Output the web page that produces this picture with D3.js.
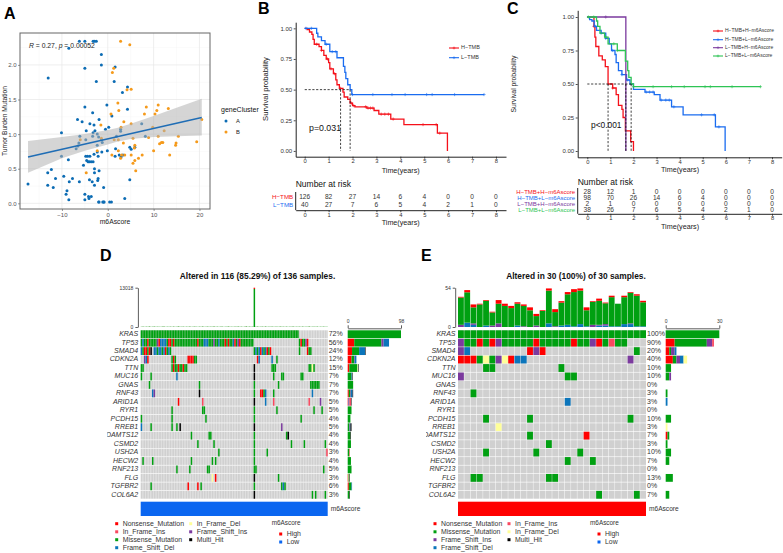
<!DOCTYPE html>
<html>
<head>
<meta charset="utf-8">
<script src="https://cdn.jsdelivr.net/npm/d3@7"></script>
<style>
body { margin: 0; background: #fff; }
svg { display: block; font-family: "Liberation Sans", Arial, sans-serif; }
</style>
</head>
<body>
<svg id="fig" width="783" height="553"></svg>
<script>
// --- panel A: scatter, [m6Ascore, TMB]
const scatterA = [[-17.4,.28],[-13,1.81],[-13.1,.44],[-13.1,.26],[-12.3,.49],[-11.9,.23],[-11.4,.36],[-10.1,1.02],[-10.1,.68],[-9.6,.39],[-9.1,.13],[-8.9,.18],[-8.6,.63],[-8.5,.05],[-8.4,.31],[-7.7,.36],[-8.5,2.24],[-6.6,1.21],[-6.2,.31],[-6.1,.97],[-5,2.34],[-3.2,2.34],[-2.9,2.34],[-2.5,2.34],[-6.2,2.34],[-1.4,2.15],[-1.4,2.0],[-5,1.95],[1.6,1.97],[-2.5,1.76],[1.4,1.76],[4.3,1.68],[3.2,1.6],[-5,1.39],[-3.3,1.31],[-.2,1.42],[4.3,1.36],[.9,1.26],[-1.9,1.21],[-5.6,1.18],[-3.9,1.15],[-3,1.13],[7.4,1.15],[-4.7,1.05],[-2.8,1.05],[-3.2,1.02],[-2.3,1.0],[-.5,1.07],[.2,1.1],[2.8,1.04],[2.8,1.07],[-3.3,.97],[-2,.96],[-1.4,.92],[-1.2,.88],[-2.3,.84],[-4.8,.92],[-6.3,.87],[-6.5,.83],[-6.9,.79],[8.2,.97],[1.9,.97],[1.7,.79],[-.1,.76],[-1.3,.74],[-2.3,.74],[-3,.71],[-2.1,.68],[-3.9,.68],[-4.4,.68],[-4.8,.68],[-4.6,.62],[-4.3,.6],[-4,.6],[-3.6,.6],[-3.2,.6],[-5.3,.55],[1.6,.68],[2.5,.7],[2.9,.67],[3.3,.7],[4.8,.81],[5.1,.78],[5.9,.81],[4.8,.34],[-2.9,.5],[-2.9,.44],[-1.9,.47],[-2.1,.36],[-2.2,.33],[-4,.34],[-3.4,.31],[-2.9,.26],[-.9,.23],[-5,.13],[-4.2,.1],[-4.1,.07],[-3.6,.1],[-5,.05],[3.7,.07],[-2,.02],[-1.9,.02],[-1.1,.02],[-.9,.02],[-.8,.02],[.4,.02],[.8,.02]];
const scatterB = [[2.8,2.34],[4.8,2.29],[1,1.89],[1.3,1.95],[4.2,1.64],[5.1,1.65],[2.2,1.45],[2.4,1.34],[8.4,1.39],[11,1.42],[10.7,1.34],[10.3,1.29],[8,1.29],[13.2,1.37],[.7,1.29],[3.5,1.18],[5.1,1.15],[2.9,1.1],[-1.5,1.13],[9.8,1.1],[20.5,1.21],[12.3,1.05],[15.4,.97],[11,.97],[8.9,.95],[5.5,.94],[-1.4,.94],[-6,.92],[1.4,.92],[2.3,.92],[3.4,.87],[12,.88],[11.7,.88],[11.3,.86],[14.9,.87],[14.8,.84],[19.4,.89],[5.9,.84],[5.8,.8],[10,.76],[2.3,.76],[-2.3,.76],[.9,.7],[3,.7],[3.7,.7],[5.1,.7],[7.5,.7],[13.5,.7],[2.8,.65],[6.7,.65],[5.9,.62],[5.5,.58],[6.1,.47],[-4.7,.44]];
const fitX = [-17.4, 20.5];
const fitY = [.67, 1.24];
const ciX = [-17.4,-10,-5,0,2,5,10,15,20.5];
const ciHi = [.90,.96,1.0,1.06,1.09,1.15,1.26,1.38,1.51];
const ciLo = [.44,.65,.76,.85,.89,.93,.96,.97,.98];

// --- panel B: survival steps
const bRedT = [0,.1,.2,.3,.35,.4,.6,.7,.8,.9,1,1.05,1.2,1.3,1.35,1.45,1.6,1.65,1.8,1.9,2,2.1,2.6,2.9,3.1,3.6,4.15,5.55,5.97];
const bRedS = [1,.99,.97,.95,.91,.87,.85,.82,.78,.75,.72,.67,.63,.58,.54,.51,.48,.44,.42,.39,.37,.36,.35,.33,.3,.26,.215,.145,0];
const bRedCens = [.5,.7,.95,1.1,1.25,1.5,1.95,2.05,2.55,2.65,2.75,2.85,3.2,3.35,3.5,3.7,4.95,5.5,5.65];
const bBlueT = [0,.5,.55,.7,.85,1.05,1.35,1.62,1.68,1.72,1.8,1.9,1.97,7.5];
const bBlueS = [1,.96,.93,.9,.87,.81,.76,.69,.64,.59,.54,.5,.46,.46];
const bBlueCens = [.05,.28,.9,1.15,1.3,2,2.85,3.65,4.2,5.1,5.33,6.27,7.5];
const bRiskRed = [126,82,27,14,6,4,0,0,0];
const bRiskBlue = [40,27,7,6,5,4,2,1,0];

// --- panel C: survival steps
const cRedT = [0,.29,.33,.37,.5,.65,.78,.9,1.1,1.25,1.35,1.5,1.55,1.65,1.88,2];
const cRedS = [1,.93,.85,.78,.71,.68,.63,.5,.47,.42,.34,.31,.25,.15,.07,0];
const cRedCens = [.29,1.1];
const cBlueT = [0,.1,.2,.3,.4,.6,.8,.95,1.05,1.2,1.25,1.35,1.5,1.7,1.85,2,2.5,2.9,3.15,3.65,4.15,5.55,5.97];
const cBlueS = [1,.98,.97,.93,.9,.88,.84,.8,.75,.72,.66,.6,.57,.53,.5,.46,.44,.42,.38,.33,.27,.18,0];
const cBlueCens = [.35,.6,.8,1.1,1.5,1.75,2.55,2.7,2.85,3.2,3.4,3.55,3.75,4.95,5.5,5.7];
const cPurpleT = [0,1.67];
const cPurpleS = [1,0];
const cPurpleCens = [.8];
const cGreenT = [0,.4,.45,.55,.75,.9,1.3,1.65,1.75,1.8,1.9,2,7.5];
const cGreenS = [1,.97,.93,.88,.85,.8,.75,.67,.6,.55,.5,.48,.48];
const cGreenCens = [.05,.28,.8,1.15,1.3,2,2.85,3.65,4.2,5.1,5.33,6.27,7.5];
const cRiskRows = [[28,12,1,0,0,0,0,0,0],[98,70,26,14,6,4,0,0,0],[2,1,0,0,0,0,0,0,0],[38,26,7,6,5,4,2,1,0]];
const cNames = ["H\u2212TMB+H\u2212m6Ascore","H\u2212TMB+L\u2212m6Ascore","L\u2212TMB+H\u2212m6Ascore","L\u2212TMB+L\u2212m6Ascore"];
const kmTicks = [0,1,2,3,4,5,6,7,8];
const survTicks = [0,.25,.5,.75,1];

// --- oncoplots. codes: m missense, n nonsense, f frame shift del, p frame shift ins,
// i in frame ins, d in frame del, h multi hit
const genes = ["KRAS","TP53","SMAD4","CDKN2A","TTN","MUC16","GNAS","RNF43","ARID1A","RYR1","PCDH15","RREB1","ADAMTS12","CSMD2","USH2A","HECW2","RNF213","FLG","TGFBR2","COL6A2"];
const dPct = [72,56,24,12,15,7,7,7,5,5,4,5,4,4,3,4,5,3,6,3];
const ePct = [100,90,20,40,10,10,0,3,3,0,10,3,7,3,10,7,0,13,0,7];
const dCells = [
  "0-97m",
  "0m 1f 2-3m 4n 5-9m 10p 11n 12-15f 16m 17-18n 19m 20n 21-34m 35n 36-38m 39-41f 42-44m 45p 46-47m 48f 49-51m 52n 53m 54n 55-56m 57f 58n 59m 60p 61n 62-69m 98m 99n 100-101m 102p 103n",
  "0f 1m 2-3n 4m 5n 6h 8-9f 10m 11-12f 13m 14f 15n 16m 17f 18m 70m 71f 72m 73f 74n 75f 76m 77f 78n 79m 80n 98m 103n 104-105m",
  "2p 3f 4n 19m 20n 21m 29-32n 33-34m 72n 73f 81f 84m",
  "0-1m 19m 20n 21-22m 23n 24-25m 26n 27-28m 70h 81-83m 104-105m 106d 107m",
  "0m 6m 22f 70h 82m 87-88m 99-100m",
  "5m 36m 70m 85m 105-110m",
  "7f 8p 36h 70m 74-75n 76m 77f 82m 106f",
  "23n 38i 70h 77f 82i 104i 111p",
  "19m 38-39m 70m 84m 107m 112m",
  "0m 19m 40m 70m 99m",
  "0f 6m 19m 22m 24h 70h 87p",
  "31m 42-43m 70m 90m 91h",
  "35m 45m 70m 93m 101m 114m",
  "48m 70m 78m 115i",
  "1m 7m 31m 44m 46m 70m",
  "22m 30m 41-42m 70-71m 113m",
  "44d 46n 70h 85m",
  "6m 29n 35n 37m 70m 87m 88f 89m",
  "70h 106m 108m 114m"
];
const eCells = [
  "0-29m",
  "0p 1-2m 3n 4m 5n 6p 7-11m 12n 13-17m 18n 19-20m 21p 22n 23m 24i 25-26m",
  "0p 1f 11n 12p 13n 28m",
  "0-2n 3m 4d 5m 6p 7d 8n 9-10f 27p",
  "4-5m 16m",
  "0p 17-18m",
  "",
  "2m",
  "17f",
  "",
  "4m 11m 27m",
  "6d",
  "11m 20n",
  "14m",
  "4m 12m 19m",
  "17m 21m",
  "",
  "2-3m 14-15m",
  "",
  "22m 28m"
];
const dTmbMis = [62,110,48,95,70,140,54,82,120,66,90,74,58,105,130,44,88,72,96,60,116,52,84,150,68,78,100,56,92,64,124,46,86,108,76,58,98,70,134,50,80,112,66,94,72,146,54,102,60,88,118,48,76,90,136,62,84,56,106,74,128,68,96,52,82,158,64,110,70,92,12600,78,122,58,86,104,66,140,50,94,72,114,60,82,98,54,126,76,88,64,108,48,92,70,132,56,84,74,100,62,118,52,90,68,144,58,80,96,66,112,50,86,72,104,60,78];
const dTmbNon = [8,14,4,10,6,22,5,9,16,7,12,8,4,11,20,3,10,6,13,5,18,4,9,24,6,8,12,5,10,6,19,3,9,14,7,5,12,6,21,4,8,15,6,11,7,23,4,13,5,10,17,3,7,10,20,6,9,4,14,7,19,6,11,4,9,26,5,15,6,10,418,7,18,5,9,13,6,21,4,11,7,16,5,9,12,4,19,7,10,6,14,3,11,6,20,4,9,7,12,5,17,4,10,6,22,5,8,11,6,15,4,9,7,13,5,8];
const eTmbDel = [0,6,3,0,2,0,0,0,0,2,0,0,0,0,5,0,2,3,1,4,1,0,2,2,1,1,4,4,1,1];
const eTmbIns = [3,0,2,0,0,2,5,0,0,0,1,0,2,0,0,1,0,0,0,0,0,3,1,2,0,0,0,1,0,0];
const eTmbMis = [37.5,41.7,22,31,34,18,27,29,26,30,28,23,13,22,45,19.5,31.5,42,47,46,22,31.5,33,28.6,40,31,37,42,42,33];
const eTmbNon = [1,3,4,1,1,1,5,3,3,2,2,4,3,1,3,4,2,3,4,3,4,1,3,1,2,0,2,1,2,2];

const mutColors = {n:"#ff0000", m:"#00a011", f:"#0b75bb", p:"#7b3a9e", i:"#f9485f", d:"#ffff99", h:"#000000"};
const mutNames = {n:"Nonsense_Mutation", m:"Missense_Mutation", f:"Frame_Shift_Del", p:"Frame_Shift_Ins", i:"In_Frame_Ins", d:"In_Frame_Del", h:"Multi_Hit"};
const stackOrder = ["n","m","p","f","i","d","h"];

const svg = d3.select("#fig");

function txt(x, y, s, size, opts) {
    opts = opts || {};
    return svg.append("text")
        .attr("x", x).attr("y", y)
        .attr("font-size", size)
        .attr("text-anchor", opts.anchor || "start")
        .attr("dominant-baseline", opts.base || "middle")
        .attr("font-weight", opts.weight || null)
        .attr("font-style", opts.style || null)
        .attr("fill", opts.fill || "#222")
        .attr("transform", opts.rot ? `rotate(${opts.rot},${x},${y})` : null)
        .text(s);
}

function styleAxis(g, size, color, lineColor, lineW) {
    g.selectAll("text").attr("font-size", size).attr("fill", color);
    g.selectAll("line").attr("stroke", lineColor).attr("stroke-width", lineW || 0.6);
    g.select(".domain").attr("stroke", lineColor).attr("stroke-width", lineW || 0.6);
    g.attr("font-family", null).attr("font-size", null);
}

// panel letters
txt(4, 15, "A", 16, {weight: "bold", fill: "#000"});
txt(258, 9.5, "B", 16, {weight: "bold", fill: "#000"});
txt(507, 9.5, "C", 16, {weight: "bold", fill: "#000"});
txt(100, 257, "D", 16, {weight: "bold", fill: "#000"});
txt(421, 257, "E", 16, {weight: "bold", fill: "#000"});

// ---------- A
function drawScatter() {
    const x = d3.scaleLinear().domain([-19.15, 22.3]).range([20, 210]);
    const y = d3.scaleLinear().domain([-0.082, 2.461]).range([209, 33]);
    const g = svg.append("g");
    [-15,-5,5,15].forEach(v => g.append("line").attr("x1", x(v)).attr("x2", x(v)).attr("y1", 33).attr("y2", 209).attr("stroke", "#f2f2f2").attr("stroke-width", .4));
    [.25,.75,1.25,1.75,2.25].forEach(v => g.append("line").attr("x1", 20).attr("x2", 210).attr("y1", y(v)).attr("y2", y(v)).attr("stroke", "#f2f2f2").attr("stroke-width", .4));
    [-10,0,10,20].forEach(v => g.append("line").attr("x1", x(v)).attr("x2", x(v)).attr("y1", 33).attr("y2", 209).attr("stroke", "#e6e6e6").attr("stroke-width", .7));
    [0,.5,1,1.5,2].forEach(v => g.append("line").attr("x1", 20).attr("x2", 210).attr("y1", y(v)).attr("y2", y(v)).attr("stroke", "#e6e6e6").attr("stroke-width", .7));

    const pts = (data, color) => g.append("g").selectAll("circle").data(data).join("circle")
        .attr("cx", d => x(d[0])).attr("cy", d => y(d[1])).attr("r", 1.5).attr("fill", color);
    pts(scatterA, "#0c6cb4");
    pts(scatterB, "#f59a1b");

    const band = d3.area().x(d => x(d[0])).y0(d => y(d[1])).y1(d => y(d[2]));
    g.append("path").datum(ciX.map((v, i) => [v, ciLo[i], ciHi[i]])).attr("d", band).attr("fill", "#b3b3b3").attr("fill-opacity", .55);
    g.append("line").attr("x1", x(fitX[0])).attr("y1", y(fitY[0])).attr("x2", x(fitX[1])).attr("y2", y(fitY[1]))
        .attr("stroke", "#1f6db5").attr("stroke-width", 1.5);

    g.append("rect").attr("x", 20).attr("y", 33).attr("width", 190).attr("height", 176)
        .attr("fill", "none").attr("stroke", "#666").attr("stroke-width", 1);

    const ax = svg.append("g").attr("transform", "translate(0,209)")
        .call(d3.axisBottom(x).tickValues([-10,0,10,20]).tickSize(2).tickPadding(1.5).tickFormat(d => d < 0 ? "\u2212" + (-d) : d));
    styleAxis(ax, 6, "#555", "#555");
    ax.select(".domain").remove();
    const ay = svg.append("g").attr("transform", "translate(20,0)")
        .call(d3.axisLeft(y).tickValues([0,.5,1,1.5,2]).tickSize(2).tickPadding(1.5).tickFormat(d3.format(".1f")));
    styleAxis(ay, 6, "#555", "#555");
    ay.select(".domain").remove();

    const r = txt(29, 46, "", 6.8, {fill: "#222"});
    r.append("tspan").attr("font-style", "italic").text("R");
    r.append("tspan").text(" = 0.27, ");
    r.append("tspan").attr("font-style", "italic").text("p");
    r.append("tspan").text(" = 0.00052");

    txt(115, 222, "m6Ascore", 6.8, {anchor: "middle"});
    txt(5, 121, "Tumor Burden Mutation", 6.7, {anchor: "middle", rot: -90});
    txt(221, 110, "geneCluster", 7, {fill: "#111"});
    [["A", "#0c6cb4", 121], ["B", "#f59a1b", 132]].forEach(d => {
        svg.append("circle").attr("cx", 226).attr("cy", d[2]).attr("r", 1.5).attr("fill", d[1]);
        txt(236, d[2], d[0], 5.8, {fill: "#222"});
    });
}
drawScatter();

// ---------- KM panels
function survAt(times, surv, t) {
    const i = d3.bisectRight(times, t) - 1;
    return surv[Math.max(0, i)];
}

function drawKM(cfg) {
    const x = d3.scaleLinear().domain(cfg.xDom).range(cfg.xRange);
    const y = d3.scaleLinear().domain([-.047, 1.05]).range(cfg.yRange);
    const g = svg.append("g");
    const line = d3.line().x(d => x(d[0])).y(d => y(d[1])).curve(d3.curveStepAfter);

    cfg.curves.forEach(c => {
        g.append("path").datum(c.t.map((v, i) => [v, c.s[i]])).attr("d", line)
            .attr("fill", "none").attr("stroke", c.color).attr("stroke-width", 1.3);
        (c.cens || []).forEach(t => {
            const px = x(t), py = y(survAt(c.t, c.s, t));
            g.append("path").attr("d", `M${px - 1.6},${py}H${px + 1.6}M${px},${py - 1.6}V${py + 1.6}`)
                .attr("stroke", c.color).attr("stroke-width", .6);
        });
    });

    const dash = s => s.attr("stroke", "#111").attr("stroke-width", .8).attr("stroke-dasharray", "2.2,1.6").attr("fill", "none");
    g.append("line").attr("x1", x(0)).attr("x2", x(cfg.medians[cfg.medians.length - 1])).attr("y1", y(.5)).attr("y2", y(.5)).call(dash);
    cfg.medians.forEach(m => g.append("line").attr("x1", x(m)).attr("x2", x(m)).attr("y1", y(.5)).attr("y2", y(0)).call(dash));

    const ax = svg.append("g").attr("transform", `translate(0,${cfg.yRange[0]})`)
        .call(d3.axisBottom(x).tickValues(kmTicks).tickSize(2).tickPadding(.5).tickSizeOuter(0));
    styleAxis(ax, 5.8, "#333", "#222", .8);
    ax.select(".domain").attr("stroke-width", 1);
    const ay = svg.append("g").attr("transform", `translate(${cfg.xRange[0]},0)`)
        .call(d3.axisLeft(y).tickValues(survTicks).tickSize(2).tickPadding(1.5).tickSizeOuter(0).tickFormat(d3.format(".2f")));
    styleAxis(ay, 6, "#333", "#222", .8);
    ay.select(".domain").attr("stroke-width", 1);

    txt(cfg.pX, cfg.pY, cfg.pText, cfg.pSize, {base: "auto", fill: "#111"});
    txt(cfg.timeX, cfg.timeY, "Time(years)", 7.2, {anchor: "middle", fill: "#222"});
    txt(cfg.survX, cfg.survY, "Survival probability", cfg.survSize, {anchor: "middle", rot: -90, fill: "#222"});

    cfg.curves.forEach((c, i) => {
        const ly = cfg.legendY[i];
        svg.append("line").attr("x1", cfg.legendX).attr("x2", cfg.legendX + 10).attr("y1", ly).attr("y2", ly)
            .attr("stroke", c.color).attr("stroke-width", 1.1);
        svg.append("path").attr("d", `M${cfg.legendX + 3.6},${ly}H${cfg.legendX + 6.4}M${cfg.legendX + 5},${ly - 1.4}V${ly + 1.4}`)
            .attr("stroke", c.color).attr("stroke-width", .6);
        txt(cfg.legendX + 12, ly, c.name, cfg.legendSize, {fill: "#333"});
    });

    // number at risk table
    txt(cfg.xRange[0], cfg.riskTitleY, "Number at risk", 8.5, {fill: "#111"});
    cfg.curves.forEach((c, i) => {
        c.risk.forEach((v, j) => txt(x(kmTicks[j]), cfg.riskY[i], v, 6.6, {anchor: "middle", fill: "#333"}));
        txt(cfg.xRange[0] - 2.5, cfg.riskY[i], c.name, cfg.riskNameSize, {anchor: "end", fill: c.color});
    });
    const rb = svg.append("g").attr("transform", `translate(0,${cfg.riskLine})`)
        .call(d3.axisBottom(x).tickValues(kmTicks).tickSize(2).tickPadding(.5).tickSizeOuter(0));
    styleAxis(rb, 5.8, "#333", "#222", .8);
    rb.select(".domain").attr("stroke-width", 1);
    svg.append("line").attr("x1", cfg.xRange[0]).attr("x2", cfg.xRange[0]).attr("y1", cfg.riskTop).attr("y2", cfg.riskLine)
        .attr("stroke", "#222").attr("stroke-width", 1);
    txt(cfg.timeX, cfg.riskLine + 13, "Time(years)", 7.2, {anchor: "middle", fill: "#222"});
}

drawKM({
    xDom: [-.377, 8.42], xRange: [295.7, 506], yRange: [156.7, 22.2],
    curves: [
        {t: bRedT, s: bRedS, cens: bRedCens, color: "#f5101a", name: "H\u2212TMB", risk: bRiskRed},
        {t: bBlueT, s: bBlueS, cens: bBlueCens, color: "#1a6cf0", name: "L\u2212TMB", risk: bRiskBlue}
    ],
    medians: [1.5, 1.9],
    pText: "p=0.031", pX: 309, pY: 130.5, pSize: 8.8,
    timeX: 400.7, timeY: 171, survX: 265.5, survY: 89, survSize: 7.6,
    legendX: 449, legendY: [48, 57.7], legendSize: 5.5,
    riskTitleY: 184.5, riskY: [197, 205], riskLine: 210.2, riskTop: 192, riskNameSize: 6.2
});

drawKM({
    xDom: [-.415, 8.42], xRange: [577.7, 781.7], yRange: [157.3, 10.3],
    curves: [
        {t: cRedT, s: cRedS, cens: cRedCens, color: "#f5101a", name: cNames[0], risk: cRiskRows[0]},
        {t: cBlueT, s: cBlueS, cens: cBlueCens, color: "#1a6cf0", name: cNames[1], risk: cRiskRows[1]},
        {t: cPurpleT, s: cPurpleS, cens: cPurpleCens, color: "#7b3a9e", name: cNames[2], risk: cRiskRows[2]},
        {t: cGreenT, s: cGreenS, cens: cGreenCens, color: "#2ec455", name: cNames[3], risk: cRiskRows[3]}
    ],
    medians: [.9, 1.67, 1.9],
    pText: "p<0.001", pX: 591, pY: 127.5, pSize: 8.4,
    timeX: 680, timeY: 170.5, survX: 514, survY: 84, survSize: 6.8,
    legendX: 713, legendY: [31, 39.7, 47.7, 56], legendSize: 5,
    riskTitleY: 182.5, riskY: [192.7, 198.7, 204.3, 210.2], riskLine: 213.8, riskTop: 188, riskNameSize: 6
});

// ---------- oncoplots
function parseCells(s) {
    const out = [];
    s.split(" ").filter(Boolean).forEach(tok => {
        const m = tok.match(/^(\d+)(?:-(\d+))?([a-z])$/);
        const a = +m[1], b = m[2] ? +m[2] : a;
        for (let c = a; c <= b; c++) out.push({col: c, code: m[3]});
    });
    return out;
}

function drawOnco(cfg) {
    const rows = cfg.cells.map(parseCells);
    const xCol = d3.scaleBand().domain(d3.range(cfg.n)).range([cfg.x0, cfg.x1]).paddingInner(cfg.gap);
    const yRow = d3.scaleBand().domain(genes).range([330.3, 498.7]).paddingInner(.075);
    const xBar = d3.scaleLinear().domain([0, cfg.barMax]).range([cfg.barX0, cfg.barX1]);
    const clipId = "clip" + cfg.id;
    svg.append("clipPath").attr("id", clipId).append("rect")
        .attr("x", cfg.clipX).attr("y", 325).attr("width", 40).attr("height", 180);

    const g = svg.append("g");
    genes.forEach((gene, r) => {
        g.append("g").selectAll("rect").data(d3.range(cfg.n)).join("rect")
            .attr("x", c => xCol(c)).attr("y", yRow(gene))
            .attr("width", xCol.bandwidth()).attr("height", yRow.bandwidth()).attr("fill", "#d0d0d0");
        g.append("g").selectAll("rect").data(rows[r]).join("rect")
            .attr("x", d => xCol(d.col)).attr("y", yRow(gene))
            .attr("width", xCol.bandwidth()).attr("height", yRow.bandwidth()).attr("fill", d => mutColors[d.code]);
        txt(cfg.x0 - 2.5, yRow(gene) + yRow.bandwidth() / 2, gene, 7, {anchor: "end", style: "italic", fill: "#333"})
            .attr("clip-path", `url(#${clipId})`);
        txt(cfg.x1 + 1, yRow(gene) + yRow.bandwidth() / 2, cfg.pct[r] + "%", 7, {fill: "#333"});

        // right side counts, stacked by mutation type
        let acc = 0;
        stackOrder.forEach(code => {
            const n = rows[r].filter(d => d.code === code).length;
            if (!n) return;
            g.append("rect").attr("x", xBar(acc)).attr("y", yRow(gene))
                .attr("width", xBar(acc + n) - xBar(acc)).attr("height", yRow.bandwidth()).attr("fill", mutColors[code]);
            acc += n;
        });
    });

    // right axis
    const top = svg.append("g").attr("transform", "translate(0,328.3)")
        .call(d3.axisTop(xBar).tickValues([0, cfg.barMax]).tickSize(3).tickPadding(2).tickSizeOuter(0));
    styleAxis(top, 5, "#333", "#333", .8);

    // top bars
    const yTop = d3.scaleLinear().domain([0, cfg.tmbMax]).range([327, 287.7]);
    cfg.tmb.forEach(series => {
        g.append("g").selectAll("rect").data(series.base.map((b, k) => ({b, v: series.vals[k], k})))
            .join("rect")
            .attr("x", d => xCol(d.k)).attr("width", xCol.bandwidth())
            .attr("y", d => yTop(d.b + d.v)).attr("height", d => yTop(d.b) - yTop(d.b + d.v))
            .attr("fill", series.color);
    });
    const aTop = svg.append("g").attr("transform", `translate(${cfg.x0 - 2.8},0)`)
        .call(d3.axisLeft(yTop).tickValues([0, cfg.tmbMax]).tickSize(2.5).tickPadding(2).tickSizeOuter(0).tickFormat(d => d));
    styleAxis(aTop, 5, "#333", "#333", .8);

    txt(cfg.titleX, 277, cfg.title, 8.4, {anchor: "middle", weight: "bold", fill: "#111"});

    g.append("rect").attr("x", cfg.x0).attr("y", 501.7).attr("width", cfg.x1 - cfg.x0).attr("height", 14.3).attr("fill", cfg.annColor);
    txt(cfg.x1 + 3, 509, "m6Ascore", 6.6, {fill: "#333"});

    // legends
    const legY = [523.7, 531.8, 539.7, 547.7];
    cfg.legend1.forEach((c, i) => legendRow(cfg.legX1, legY[i], mutColors[c], mutNames[c]));
    cfg.legend2.forEach((c, i) => legendRow(cfg.legX2, legY[i], mutColors[c], mutNames[c]));
    txt(cfg.legX3 - 9, 523.7, "m6Ascore", 6.4, {fill: "#333"});
    legendRow(cfg.legX3, 534, "#ff0000", "High");
    legendRow(cfg.legX3, 542, "#0b66f0", "Low");
}

function legendRow(x, y, color, label) {
    svg.append("rect").attr("x", x - 1.5).attr("y", y - 1.5).attr("width", 3).attr("height", 3).attr("fill", color);
    txt(x + 6, y, label, 6.9, {fill: "#333"});
}

function stackSeries(list) {
    // list: [[values, color], ...] bottom to top
    let base = list[0][0].map(() => 0);
    return list.map(([vals, color]) => {
        const s = {base: base.slice(), vals, color};
        base = base.map((b, i) => b + vals[i]);
        return s;
    });
}

drawOnco({
    id: "D", n: 116, x0: 140.7, x1: 327.7, gap: .08, cells: dCells, pct: dPct,
    barMax: 98, barX0: 347.7, barX1: 401, tmbMax: 13018,
    tmb: stackSeries([[dTmbMis, "#00a011"], [dTmbNon, "#ff0000"]]),
    title: "Altered in 116 (85.29%) of 136 samples.", titleX: 257.5,
    annColor: "#0b66f0", clipX: 107.3,
    legX1: 116.7, legX2: 190.7, legX3: 280.7,
    legend1: ["n", "i", "m", "f"], legend2: ["d", "p", "h"]
});

drawOnco({
    id: "E", n: 30, x0: 458, x1: 646, gap: .07, cells: eCells, pct: ePct,
    barMax: 30, barX0: 665.7, barX1: 719.3, tmbMax: 54,
    tmb: stackSeries([[eTmbDel, "#0b75bb"], [eTmbIns, "#7b3a9e"], [eTmbMis, "#00a011"], [eTmbNon, "#ff0000"]]),
    title: "Altered in 30 (100%) of 30 samples.", titleX: 576,
    annColor: "#ff0000", clipX: 426,
    legX1: 435, legX2: 509, legX3: 599,
    legend1: ["n", "m", "p", "f"], legend2: ["i", "d", "h"]
});
</script>
</body>
</html>
